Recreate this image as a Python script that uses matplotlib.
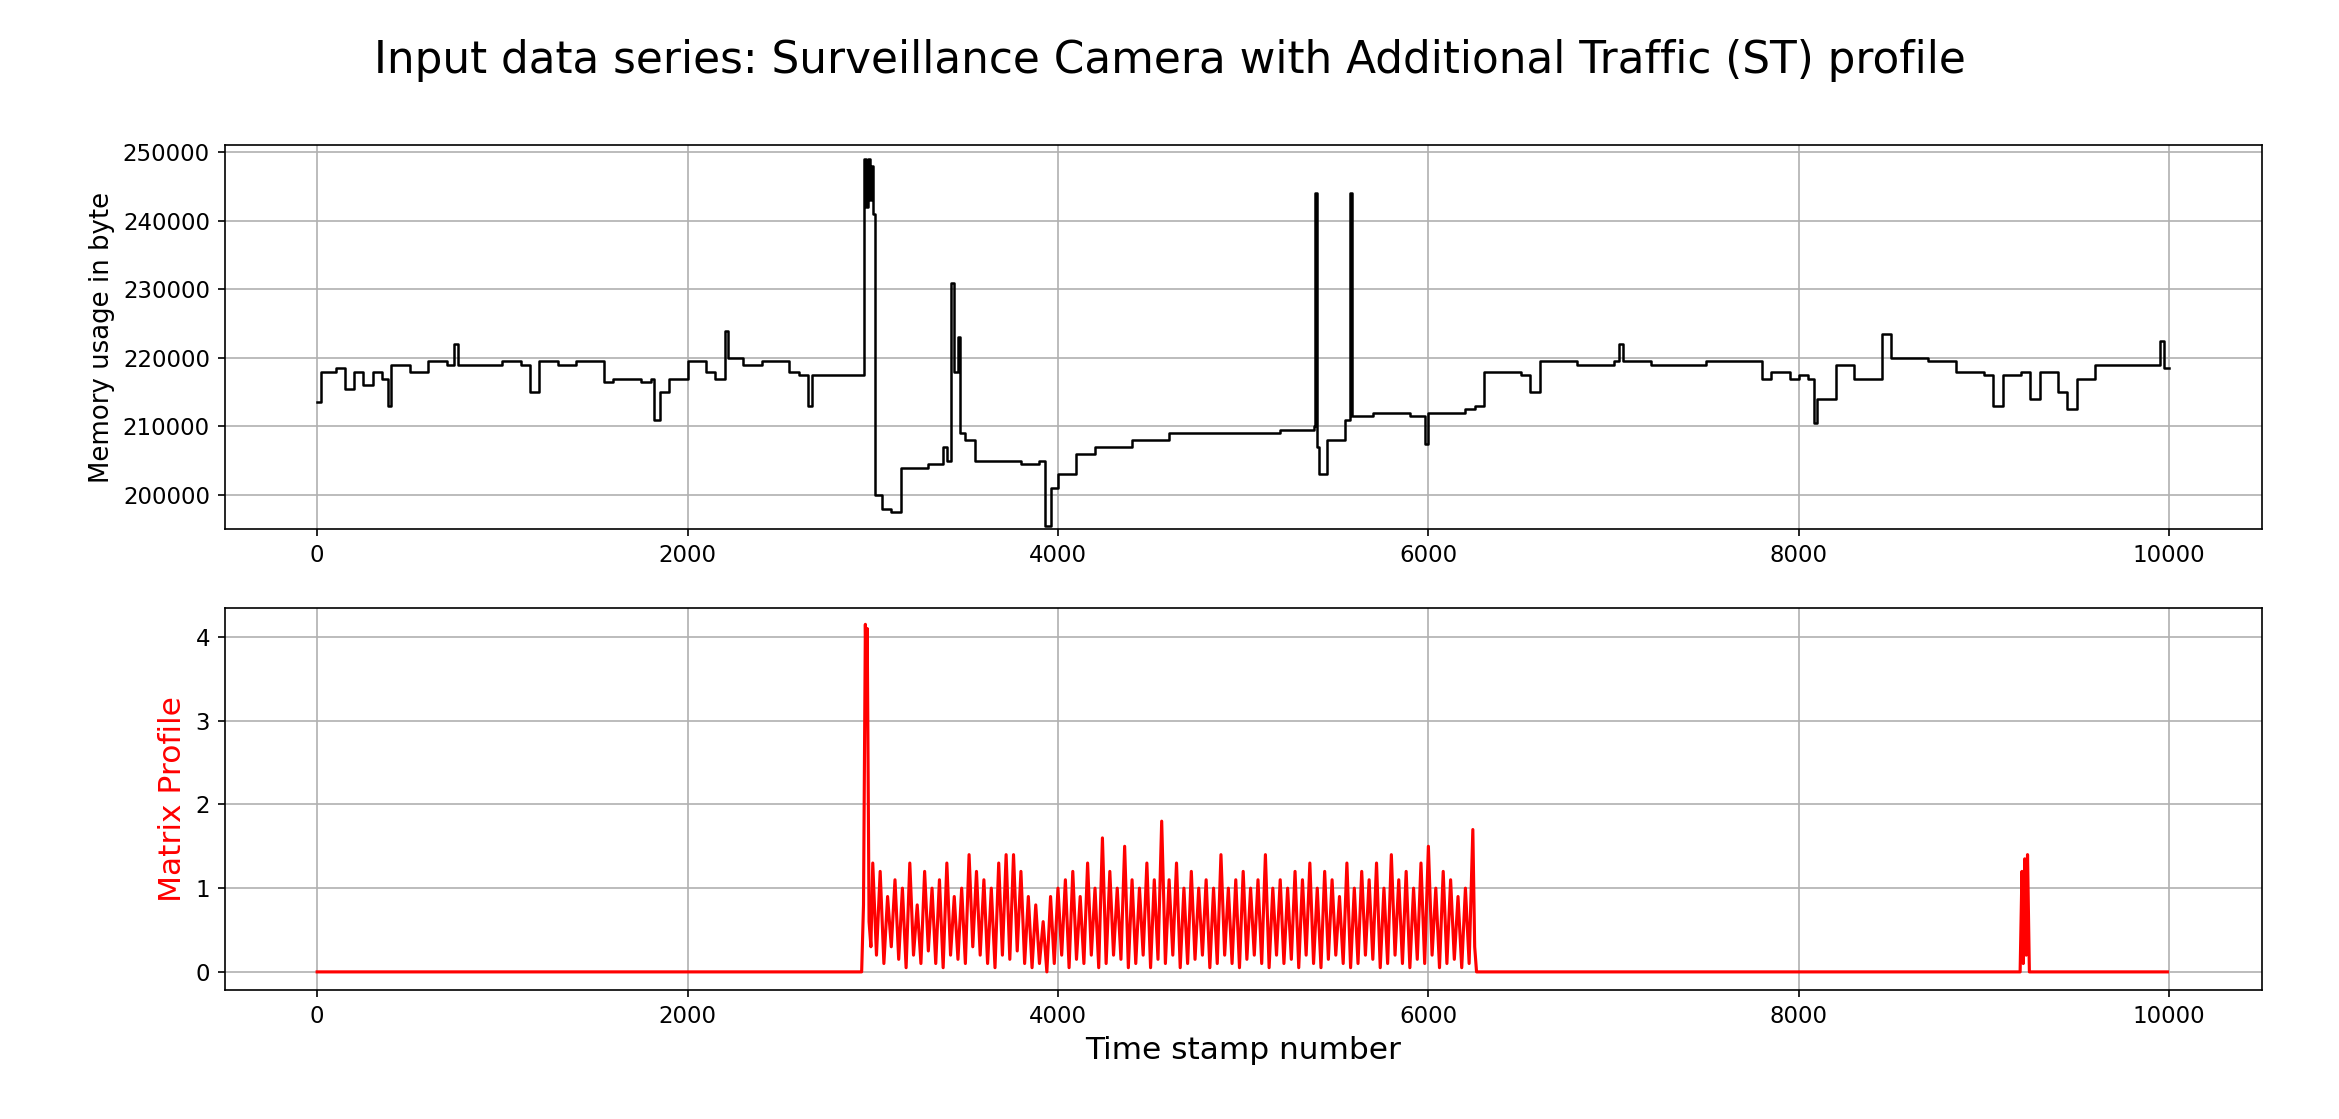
import matplotlib
matplotlib.use("Agg")
import matplotlib.pyplot as plt
import numpy as np

# ---- top series: (timestamp, memory in bytes/1000) ----
mem_t = [0,20,100,150,200,250,300,350,380,400,500,600,700,740,760,900,1000,1100,1150,1200,1300,1400,1500,1550,1600,1700,1750,1800,1820,1850,1900,2000,2100,2150,2200,2220,2300,2400,2500,2550,2600,2650,2670,2800,2950,2955,2965,2975,2985,2990,3000,3010,3050,3100,3150,3300,3380,3400,3420,3440,3460,3470,3500,3550,3700,3800,3900,3930,3960,4000,4100,4200,4400,4600,4800,5000,5200,5380,5390,5400,5410,5450,5550,5575,5590,5700,5800,5900,5950,5980,6000,6200,6250,6300,6400,6500,6550,6600,6800,7000,7030,7050,7200,7500,7700,7800,7850,7950,8000,8050,8080,8100,8200,8300,8450,8500,8700,8800,8850,9000,9050,9100,9200,9250,9300,9400,9450,9500,9600,9800,9900,9950,9970,10000]
mem_k = [213.5,218,218.5,215.5,218,216,218,217,213,219,218,219.5,219,222,219,219,219.5,219,215,219.5,219,219.5,219.5,216.5,217,217,216.5,217,211,215,217,219.5,218,217,224,220,219,219.5,219.5,218,217.5,213,217.5,217.5,218,249,242,249,243,248,241,200,198,197.5,204,204.5,207,205,231,218,223,209,208,205,205,204.5,205,195.5,201,203,206,207,208,209,209,209,209.5,210,244,207,203,208,211,244,211.5,212,212,211.5,211.5,207.5,212,212.5,213,218,218,217.5,215,219.5,219,219.5,222,219.5,219,219.5,219.5,217,218,217,217.5,217,210.5,214,219,217,223.5,220,219.5,219.5,218,217.5,213,217.5,218,214,218,215,212.5,217,219,219,219,222.5,218.5,218.5]

# ---- matrix profile ----
mp_pre_t = [0, 2940, 2950, 2960, 2965, 2970, 2980, 2990]
mp_pre_v = [0.0, 0.0, 0.8, 4.15, 3.4, 4.1, 0.6, 0.3]
peak_t = list(range(3000, 6241, 40))
peak_v = [1.3,1.2,0.9,1.1,1.0,1.3,0.8,1.2,1.0,1.1,1.3,0.9,1.0,1.4,1.2,1.1,1.0,1.3,1.4,1.4,1.2,0.9,0.8,0.6,0.9,1.0,1.1,1.2,0.9,1.3,1.0,1.6,1.2,1.0,1.5,1.1,1.0,1.3,1.1,1.8,1.1,1.3,1.0,1.2,1.0,1.1,1.0,1.4,1.0,1.1,1.2,1.0,1.1,1.4,1.0,1.1,1.0,1.2,1.1,1.3,1.0,1.2,1.1,0.9,1.3,1.0,1.2,1.1,1.3,1.0,1.4,1.1,1.2,1.0,1.3,1.5,1.0,1.2,1.1,0.9,1.0,1.7]
valley_t = list(range(3020, 6221, 40))
valley_v = [0.2,0.1,0.3,0.15,0.05,0.2,0.1,0.25,0.1,0.05,0.2,0.15,0.1,0.3,0.2,0.1,0.05,0.2,0.15,0.25,0.1,0.05,0.1,0.0,0.1,0.2,0.05,0.15,0.1,0.2,0.05,0.1,0.2,0.15,0.05,0.1,0.2,0.05,0.15,0.1,0.2,0.05,0.1,0.15,0.2,0.05,0.1,0.2,0.1,0.05,0.15,0.2,0.1,0.05,0.2,0.1,0.15,0.05,0.2,0.1,0.05,0.15,0.2,0.1,0.05,0.1,0.2,0.15,0.05,0.1,0.2,0.1,0.05,0.15,0.1,0.2,0.05,0.1,0.15,0.05,0.1]
mp_post_t = [6250, 6260, 9195, 9205, 9212, 9220, 9228, 9235, 9245, 9990]
mp_post_v = [0.3, 0.0, 0.0, 1.2, 0.1, 1.35, 0.2, 1.4, 0.0, 0.0]

mid_t = peak_t + valley_t
mid_v = peak_v + valley_v
order = np.argsort(mid_t)
mp_t = mp_pre_t + [mid_t[i] for i in order] + mp_post_t
mp_v = mp_pre_v + [mid_v[i] for i in order] + mp_post_v

fig = plt.figure(figsize=(2339/150, 1119/150), dpi=150)
ax1 = fig.add_axes([0.096, 0.527, 0.871, 0.343])
ax2 = fig.add_axes([0.096, 0.115, 0.871, 0.342])

ax1.plot(mem_t, np.array(mem_k) * 1000, color="black", lw=1.2, drawstyle="steps-post")
ax1.set_ylabel("Memory usage in byte", fontsize=12.5)
ax1.set_yticks([200000, 210000, 220000, 230000, 240000, 250000])
ax1.set_ylim(195000, 251000)
ax1.grid(True)

ax2.plot(mp_t, mp_v, color="red", lw=1.5)
ax2.set_ylabel("Matrix Profile", fontsize=15, color="red")
ax2.set_xlabel("Time stamp number", fontsize=15)
ax2.set_yticks([0, 1, 2, 3, 4])
ax2.set_ylim(-0.22, 4.35)
ax2.grid(True)

for ax in (ax1, ax2):
    ax.set_xlim(-500, 10500)
    ax.set_xticks([0, 2000, 4000, 6000, 8000, 10000])
    ax.tick_params(labelsize=11)

fig.suptitle("Input data series: Surveillance Camera with Additional Traffic (ST) profile",
             fontsize=21, y=0.965)
fig.savefig("out.png", dpi=150)
